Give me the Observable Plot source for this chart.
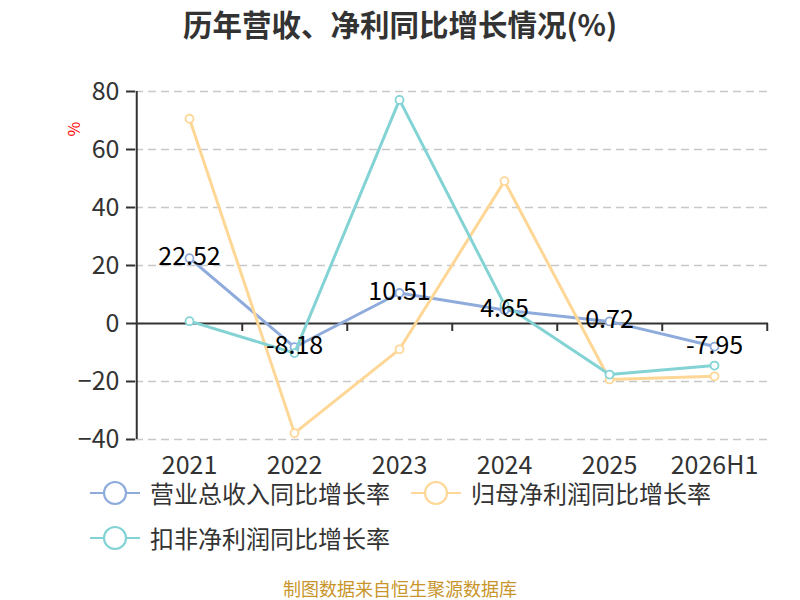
<!DOCTYPE html>
<html>
<head>
<meta charset="utf-8">
<script src="https://cdn.jsdelivr.net/npm/d3@7"></script>
<script src="https://cdn.jsdelivr.net/npm/@observablehq/plot@0.6"></script>
<style>
  body { margin: 0; background: #fff; font-family: "Noto Sans CJK SC", "Noto Sans", sans-serif; }
  #wrap { position: relative; width: 800px; height: 600px; overflow: hidden; }
  #chart { position: absolute; left: 0; top: 0; }
  #title { position: absolute; left: 0; top: 2px; width: 800px; text-align: center; font-size: 29.5px; font-weight: bold; color: #333; line-height: 42px; }
  #unit { position: absolute; left: 63px; top: 119px; width: 20px; text-align: center; font-size: 16px; color: #f00; transform: rotate(-90deg); line-height: 20px; }
  .leg { position: absolute; display: flex; align-items: center; height: 22px; line-height: 22px; font-size: 24px; color: #333; white-space: nowrap; }
  .leg svg { margin-right: 10px; }
  #caption { position: absolute; left: 0; top: 578px; width: 800px; text-align: center; font-size: 18px; color: #c8952b; line-height: 21px; }
</style>
</head>
<body>
<div id="wrap">
  <div id="chart"></div>
  <div id="title">历年营收、净利同比增长情况(%)</div>
  <div id="unit">%</div>
  <div id="legend"></div>
  <div id="caption">制图数据来自恒生聚源数据库</div>
</div>
<script>
const categories = ["2021", "2022", "2023", "2024", "2025", "2026H1"];
const seriesNames = ["营业总收入同比增长率", "归母净利润同比增长率", "扣非净利润同比增长率"];
const seriesColors = ["#8eabdc", "#fed797", "#84d3d4"];
const revenueGrowth = [22.52, -8.18, 10.51, 4.65, 0.72, -7.95];
const netProfitGrowth = [70.6, -37.8, -8.9, 49.1, -19.3, -18.2];
const deductedGrowth = [0.8, -10.2, 77.1, 6.5, -17.6, -14.5];
const yTicks = [-40, -20, 0, 20, 40, 60, 80];

const seriesValues = [revenueGrowth, netProfitGrowth, deductedGrowth];
const rows = seriesNames.flatMap((s, i) =>
  categories.map((c, j) => ({ series: s, category: c, value: seriesValues[i][j] }))
);

const W = 800, H = 600, mL = 135, mR = 32, mT = 91, mB = 161;
const step = (W - mL - mR) / categories.length;
const pxPerUnit = (H - mT - mB) / (yTicks[yTicks.length - 1] - yTicks[0]);

const marks = [
  Plot.gridY(yTicks.filter(t => t !== 0), { stroke: "#c8c8c8", strokeOpacity: 1, strokeWidth: 1.5, strokeDasharray: "8,5" }),
  Plot.ruleY([0], { stroke: "#333", strokeWidth: 2 }),
  Plot.ruleX([categories[0]], { x: d => d, dx: -step / 2, stroke: "#333", strokeWidth: 2 }),
  Plot.ruleX(categories, { x: d => d, dx: step / 2, y1: 0, y2: -8 / pxPerUnit, stroke: "#333", strokeWidth: 2 }),
  Plot.axisY({ ticks: yTicks, tickSize: 9, tickPadding: 7, fontSize: 25, stroke: "#333", strokeWidth: 2 }),
  Plot.axisX({ anchor: "bottom", tickSize: 0, tickPadding: 17, fontSize: 25 })
];

seriesNames.forEach((s, i) => {
  const data = rows.filter(d => d.series === s);
  marks.push(Plot.line(data, { x: "category", y: "value", stroke: seriesColors[i], strokeWidth: 3 }));
  marks.push(Plot.dot(data, { x: "category", y: "value", r: 4, fill: "white", stroke: seriesColors[i], strokeWidth: 1.8 }));
});

marks.push(Plot.text(rows.filter(d => d.series === seriesNames[0]), {
  x: "category", y: "value", text: d => d.value.toFixed(2), fontSize: 25, fill: "#000", dy: -1
}));

const chart = Plot.plot({
  width: W, height: H,
  marginLeft: mL, marginRight: mR, marginTop: mT, marginBottom: mB,
  style: { fontFamily: "Noto Sans CJK SC, Noto Sans, sans-serif", color: "#333", background: "transparent" },
  x: { type: "point", domain: categories, padding: 0.5, align: 0.5, label: null },
  y: { domain: [yTicks[0], yTicks[yTicks.length - 1]], label: null },
  marks
});
document.getElementById("chart").appendChild(chart);

const legendPos = [[90, 482], [411, 482], [90, 527]];
const legend = document.getElementById("legend");
seriesNames.forEach((s, i) => {
  const div = document.createElement("div");
  div.className = "leg";
  div.style.left = legendPos[i][0] + "px";
  div.style.top = legendPos[i][1] + "px";
  div.innerHTML = `<svg width="50" height="22" style="overflow:visible"><line x1="0" y1="11" x2="50" y2="11" stroke="${seriesColors[i]}" stroke-width="2"/><circle cx="25" cy="11" r="11" fill="white" stroke="${seriesColors[i]}" stroke-width="2.2"/></svg><span>${s}</span>`;
  legend.appendChild(div);
});
</script>
</body>
</html>
